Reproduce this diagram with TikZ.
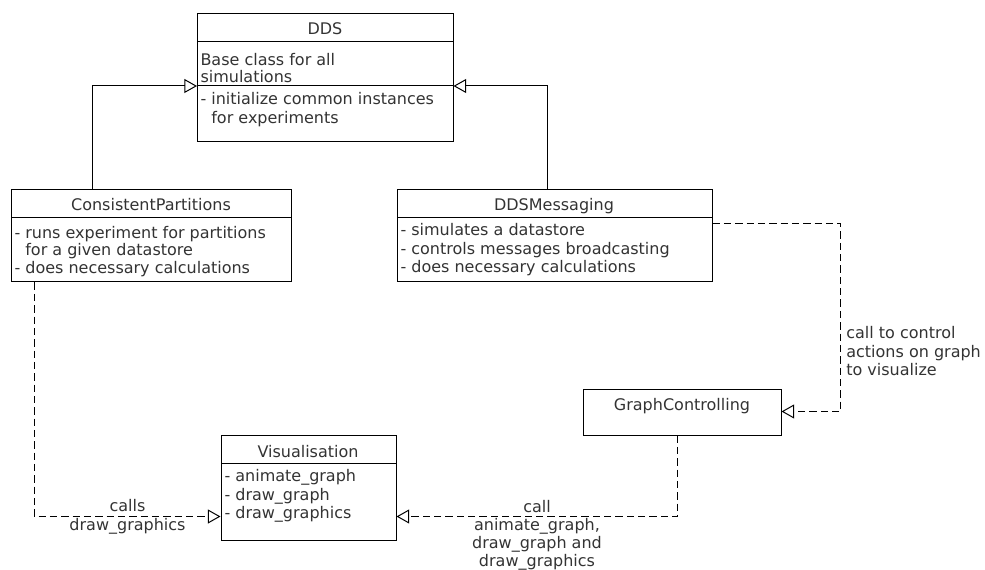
\documentclass[tikz,border=0pt]{standalone}
\usepackage{fontspec}
\setmainfont{DejaVu Sans}
\usetikzlibrary{arrows.meta,calc,fit,positioning}

\begin{document}
\begin{tikzpicture}[x=0.75pt,y=-0.75pt,line width=0.75pt,
    font=\fontsize{12}{14}\selectfont,text=black!80,
    box/.style={draw,inner sep=0pt},
    title/.style={anchor=base,inner sep=0pt},
    ops/.style={anchor=north west,inner sep=0pt,align=left},
    gen/.style={-{Triangle[open,length=9.5pt,width=10.5pt]}},
    dep/.style={gen,dash pattern=on 5.5pt off 3pt}]
  \useasboundingbox (0,0) rectangle (985,570);
  % base class
  \node[box,fit={(197,14) (453,142)}] (dds) {};
  \node[title] (ddsname) at (325,35) {DDS};
  \draw (197,42) -- (453,42);
  \coordinate (ddsdiv) at (197,86);
  \draw (ddsdiv) -- (ddsdiv -| dds.east);
  \node[ops,font=\fontsize{12}{13}\selectfont] (ddsinfo) at (200,53) {Base class for all\\simulations};
  \node[ops] (ddsops) at (200,92) {- initialize common instances\\\phantom{- }for experiments};
  % subclasses
  \node[box,fit={(11,190) (291,282)}] (cp) {};
  \node[title] (cpname) at (151,211) {ConsistentPartitions};
  \draw (11,218) -- (291,218);
  \node[ops,font=\fontsize{12}{12.9}\selectfont] (cpops) at (14,226) {- runs experiment for partitions\\\phantom{- }for a given datastore\\- does necessary calculations};
  \node[box,fit={(397,190) (712,282)}] (msg) {};
  \node[title] (msgname) at (554,211) {DDSMessaging};
  \draw (397,218) -- (712,218);
  \node[ops] (msgops) at (400,223) {- simulates a datastore\\- controls messages broadcasting\\- does necessary calculations};
  % helpers
  \node[box,fit={(583,389) (781,435)}] (gc) {};
  \node[title] (gcname) at (682,410) {GraphControlling};
  \node[box,fit={(221,435) (396,540)}] (vis) {};
  \node[title] (visname) at (308,457) {Visualisation};
  \draw (221,463) -- (396,463);
  \node[ops] (visops) at (224,469) {- animate\_graph\\- draw\_graph\\- draw\_graphics};
  % inheritance
  \draw[gen] ($(cp.north west)+(82,0)$) |- (ddsdiv);
  \draw[gen] ($(msg.north west)+(151,0)$) |- (ddsdiv -| dds.east);
  % usage
  \draw[dep] ($(cp.south west)+(24,0)$) |- ($(vis.north west)+(0,82)$)
    node[pos=0.75,align=center] (callslbl) {calls\\draw\_graphics};
  \draw[dep] ($(gc.south west)+(95,0)$) |- ($(vis.north east)+(0,82)$)
    node[pos=0.75,align=center,yshift=-14pt,font=\fontsize{12}{13.6}\selectfont] (calllbl) {call\\animate\_graph,\\draw\_graph and\\draw\_graphics};
  \draw[dep] ($(msg.north east)+(0,34)$) -- ++(128,0) |- ($(gc.north east)+(0,23)$)
    node[pos=0.34,anchor=west,align=left,inner sep=0pt,xshift=4pt] (ctrllbl) {call to control\\actions on graph\\to visualize};
\end{tikzpicture}
\end{document}
